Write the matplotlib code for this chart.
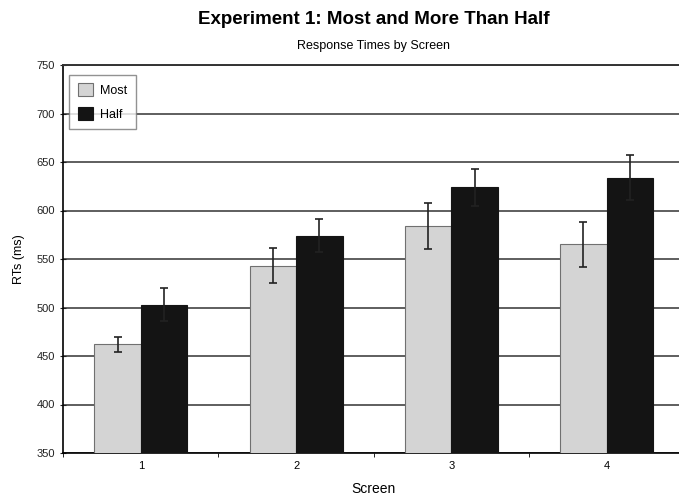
import numpy as np
import matplotlib.pyplot as plt

plt.rcParams['font.family'] = ['Liberation Sans', 'DejaVu Sans']

screens = ['1', '2', '3', '4']
most = [462, 543, 584, 565]
most_err = [8, 18, 24, 23]
half = [503, 574, 624, 634]
half_err = [17, 17, 19, 23]

fig = plt.figure(figsize=(6.79, 5.0), dpi=100)
ax = fig.add_axes([0.093, 0.094, 0.915, 0.776])

x = np.arange(len(screens))
w = 0.3
ax.bar(x - w / 2, most, w, color='#d4d4d4', edgecolor='#707070', linewidth=0.8,
       label='Most', zorder=3)
ax.bar(x + w / 2, half, w, color='#141414', edgecolor='#141414', linewidth=0.8,
       label='Half', zorder=3)
ax.errorbar(x - w / 2, most, yerr=most_err, fmt='none', ecolor='#222222',
            elinewidth=1.2, capsize=3, capthick=1.2, zorder=4)
ax.errorbar(x + w / 2, half, yerr=half_err, fmt='none', ecolor='#222222',
            elinewidth=1.2, capsize=3, capthick=1.2, zorder=4)

ax.set_ylim(350, 750)
ax.set_xlim(-0.5, len(screens) - 0.5)
ax.set_yticks(range(350, 751, 50))
ax.yaxis.grid(True, color='#333333', linewidth=1.1, zorder=0)
ax.set_xticks(x)
ax.set_xticklabels(screens)
ax.set_xticks(np.arange(-0.5, len(screens), 1), minor=True)
ax.tick_params(axis='x', which='major', length=0, labelsize=8, pad=6)
ax.tick_params(axis='x', which='minor', length=3, direction='out')
ax.tick_params(axis='y', length=5, direction='inout', labelsize=8, colors='#222222')

ax.spines['top'].set_position(('data', 750))
ax.spines['top'].set_linewidth(1.4)
ax.spines['top'].set_color('#333333')
ax.spines['right'].set_visible(False)
ax.spines['left'].set_linewidth(1.2)
ax.spines['bottom'].set_linewidth(1.2)

ax.set_xlabel('Screen', fontsize=10, labelpad=8)
ax.set_ylabel('RTs (ms)', fontsize=9, labelpad=8)

fig.text(0.55, 0.952, 'Experiment 1: Most and More Than Half', ha='center',
         fontsize=13.5, fontweight='bold')
fig.text(0.55, 0.903, 'Response Times by Screen', ha='center', fontsize=9)

leg = ax.legend(loc='upper left', bbox_to_anchor=(0.003, 0.985), fontsize=9,
                frameon=True, fancybox=False, edgecolor='#777777',
                handlelength=1.2, handleheight=1.2, borderpad=0.7, labelspacing=0.8,
                handletextpad=0.6, borderaxespad=0.3)
leg.get_frame().set_linewidth(1.0)

fig.savefig('out.png', dpi=100)
